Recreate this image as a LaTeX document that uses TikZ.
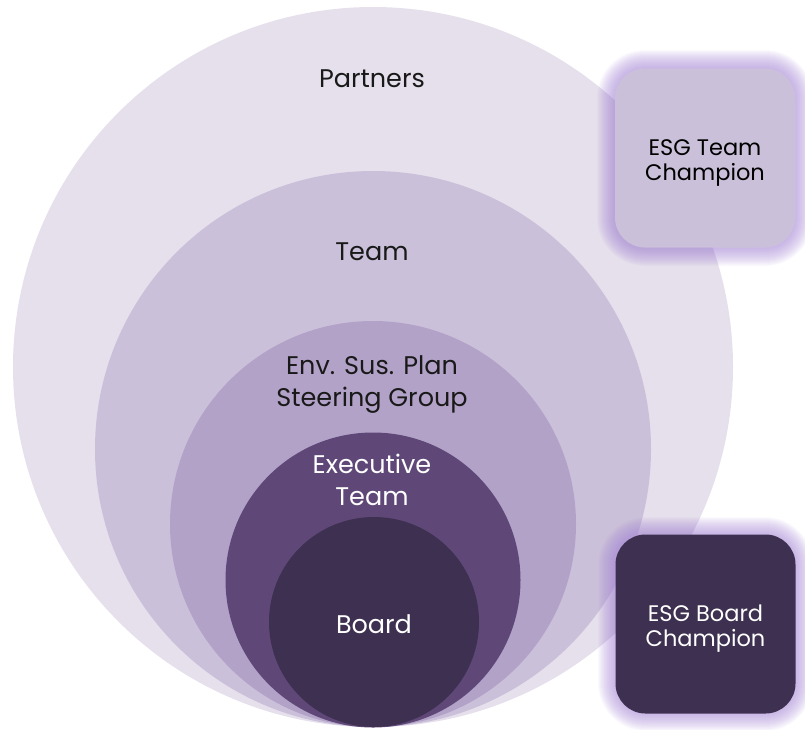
\documentclass[tikz,border=0pt]{standalone}
\usepackage{fontspec}
\setmainfont{Poppins}
\usepackage{tikz}
\usetikzlibrary{positioning}

\definecolor{partnersfill}{HTML}{E6E0EC}
\definecolor{teamfill}{HTML}{CBC0DA}
\definecolor{envfill}{HTML}{B2A2C8}
\definecolor{execfill}{HTML}{5F4878}
\definecolor{boardfill}{HTML}{3E3050}
\definecolor{glowfill}{HTML}{A88AD6}

\begin{document}
\begin{tikzpicture}[x=1pt,y=-1pt,
  ring node/.style={circle,draw=none,inner sep=0pt},
  label node/.style={align=center,font=\fontsize{25.5}{32}\selectfont,text=black!90},
  champ node/.style={rectangle,rounded corners=30pt,draw=none,inner sep=0pt,
    minimum width=180pt,minimum height=179pt},
  champ text/.style={align=center,font=\fontsize{22.5}{25}\selectfont,yshift=-5pt}]

  \useasboundingbox (0,0) rectangle (805,729);

  % nested circles, all touching at the bottom
  \node[ring node,fill=partnersfill,minimum size=720pt] (partners) at (373,367) {};
  \node[ring node,fill=teamfill,minimum size=556pt] (team) at (373,449) {};
  \node[ring node,fill=envfill,minimum size=406pt] (env) at (373,524) {};
  \node[ring node,fill=execfill,minimum size=295pt] (exec) at (373,580) {};
  \node[ring node,fill=boardfill,minimum size=210pt] (board) at (374,622) {};

  \node[label node] (partnerstext) at (372,79) {Partners};
  \node[label node] (teamtext) at (372,252) {Team};
  \node[label node] (envtext) at (372,384) {Env. Sus. Plan\\Steering Group};
  \node[label node,text=white] (exectext) at (372,480) {Executive\\Team};
  \node[label node,text=white] (boardtext) at (374,624) {Board};

  % soft glow behind the champion boxes
  \foreach \g in {1,...,18} {
    \fill[glowfill,opacity=0.05,rounded corners=30pt+\g pt]
      (615-\g,68-\g) rectangle (795+\g,248+\g);
    \fill[glowfill,opacity=0.05,rounded corners=30pt+\g pt]
      (616-\g,535-\g) rectangle (795+\g,713+\g);
  }

  \node[champ node,fill=teamfill] (teamchamp) at (705,158) {};
  \node[champ node,fill=boardfill] (boardchamp) at (705.5,624) {};
  \node[champ text,text=black] (teamchamptext) at (teamchamp.center) {ESG Team\\Champion};
  \node[champ text,text=white] (boardchamptext) at (boardchamp.center) {ESG Board\\Champion};

\end{tikzpicture}
\end{document}
